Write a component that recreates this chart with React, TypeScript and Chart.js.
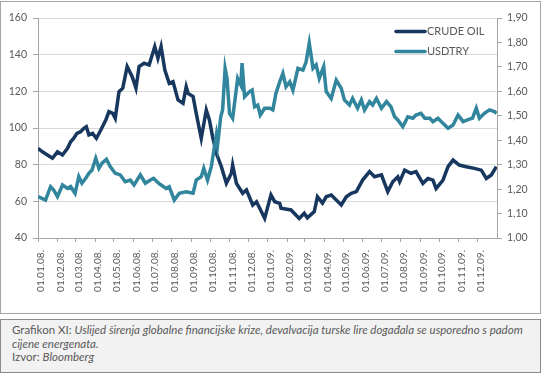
import React, { useEffect, useRef } from 'react';
import { Chart, registerables } from 'chart.js';

Chart.register(...registerables);

// x positions: days since 01.01.2008
const oilDays = [0, 7, 15, 23, 31, 39, 47, 52, 57, 62, 68, 73, 77, 81, 87, 93, 100, 108, 113, 119, 123, 129, 135, 142, 150, 156, 161, 169, 177, 186, 191, 196, 202, 209, 215, 223, 231, 236, 239, 247, 252, 260, 268, 273, 278, 284, 292, 300, 308, 310, 316, 326, 332, 342, 348, 361, 371, 377, 385, 387, 403, 416, 424, 429, 440, 445, 453, 459, 467, 483, 491, 499, 507, 517, 528, 536, 547, 557, 565, 573, 576, 584, 594, 602, 613, 621, 629, 634, 645, 653, 661, 671, 682, 695, 706, 714, 722, 730];
const oilValues = [88.9, 87, 85.3, 83.5, 87, 85.3, 88.9, 92.5, 94.4, 97.1, 98, 99.8, 100.7, 96.2, 97.1, 94.4, 98.9, 104.4, 108.9, 108, 105.3, 119.8, 121.7, 133.5, 128, 121.7, 133.5, 135.3, 134.4, 144.4, 138, 144.4, 131.6, 124.4, 125.3, 115.3, 113.5, 122.5, 118.9, 117.1, 108, 94.4, 109.8, 104.4, 95.3, 86.2, 78.9, 69.8, 75.3, 79.8, 69.8, 64.4, 66.2, 58, 59.8, 50.7, 63.5, 59.8, 58.9, 56.2, 55.3, 50.7, 53.5, 51, 54.4, 62.5, 59, 62.5, 63.5, 58, 62.5, 64.4, 65.3, 71.6, 76.2, 73.4, 74.4, 65.3, 70.7, 73.4, 70.7, 77, 75.3, 76.2, 69.8, 72.5, 71.6, 67, 71.6, 78.9, 82.5, 79.8, 78.9, 78, 77, 72.5, 74.4, 78.9];

const usdDays = [0, 12, 20, 25, 31, 39, 47, 52, 59, 65, 70, 76, 81, 86, 92, 97, 102, 109, 115, 123, 131, 139, 147, 153, 163, 171, 179, 184, 192, 196, 204, 209, 217, 225, 236, 247, 252, 260, 264, 270, 276, 281, 284, 286, 291, 294, 298, 301, 305, 310, 313, 318, 323, 325, 329, 337, 341, 345, 350, 354, 361, 369, 374, 379, 385, 390, 395, 401, 406, 414, 422, 427, 432, 438, 443, 448, 455, 459, 467, 475, 483, 488, 496, 501, 509, 515, 520, 528, 533, 539, 547, 555, 562, 568, 573, 581, 589, 597, 602, 610, 616, 624, 629, 637, 645, 653, 661, 669, 677, 684, 692, 698, 703, 711, 719, 727, 730];
const usdValues = [1.169, 1.155, 1.21, 1.196, 1.169, 1.217, 1.203, 1.21, 1.183, 1.251, 1.224, 1.244, 1.265, 1.278, 1.326, 1.285, 1.306, 1.322, 1.292, 1.265, 1.258, 1.23, 1.237, 1.217, 1.258, 1.224, 1.237, 1.244, 1.224, 1.217, 1.203, 1.21, 1.155, 1.183, 1.189, 1.183, 1.237, 1.251, 1.285, 1.237, 1.292, 1.373, 1.421, 1.38, 1.496, 1.524, 1.694, 1.653, 1.51, 1.49, 1.551, 1.653, 1.626, 1.715, 1.578, 1.599, 1.605, 1.537, 1.544, 1.503, 1.531, 1.531, 1.524, 1.592, 1.639, 1.674, 1.619, 1.639, 1.605, 1.694, 1.687, 1.721, 1.797, 1.694, 1.708, 1.653, 1.701, 1.599, 1.571, 1.646, 1.612, 1.565, 1.544, 1.571, 1.531, 1.565, 1.524, 1.558, 1.544, 1.571, 1.531, 1.558, 1.537, 1.496, 1.483, 1.455, 1.496, 1.49, 1.503, 1.51, 1.49, 1.49, 1.476, 1.49, 1.469, 1.449, 1.462, 1.503, 1.476, 1.483, 1.49, 1.531, 1.49, 1.51, 1.524, 1.517, 1.51];

const tickLabels = ['01.01.08.', '01.02.08.', '01.03.08.', '01.04.08.', '01.05.08.', '01.06.08.', '01.07.08.', '01.08.08.', '01.09.08.', '01.10.08.', '01.11.08.', '01.12.08.', '01.01.09.', '01.02.09.', '01.03.09.', '01.04.09.', '01.05.09.', '01.06.09.', '01.07.09.', '01.08.09.', '01.09.09.', '01.10.09.', '01.11.09.', '01.12.09.'];
const seriesNames = ['CRUDE OIL', 'USDTRY'];
const colors = ['#17375E', '#31859C'];

const START = Date.UTC(2008, 0, 1);
const labelDay = (lab: string) => {
  const p = lab.split('.');
  return Math.round((Date.UTC(2000 + Number(p[2]), Number(p[1]) - 1, Number(p[0])) - START) / 86400000);
};
const tickDays = tickLabels.map(labelDay);

const TXT = '#595959';
const AX = '#a6a6a6';
const GRID = '#d9d9d9';

const insideLegend = {
  id: 'insideLegend',
  afterDraw(chart: any) {
    const { ctx, chartArea } = chart;
    ctx.save();
    seriesNames.forEach((name, i) => {
      const y = chartArea.top + 13.5 + i * 20;
      const x0 = chartArea.right - 101;
      ctx.strokeStyle = colors[i];
      ctx.lineWidth = 3.5;
      ctx.lineCap = 'round';
      ctx.beginPath();
      ctx.moveTo(x0, y);
      ctx.lineTo(x0 + 29, y);
      ctx.stroke();
      ctx.fillStyle = TXT;
      ctx.font = '11px Lato';
      ctx.textBaseline = 'middle';
      ctx.textAlign = 'left';
      ctx.fillText(name, x0 + 31, y);
    });
    ctx.restore();
  },
};

export default function App() {
  const ref = useRef<HTMLCanvasElement | null>(null);
  useEffect(() => {
    if (!ref.current) return;
    const chart = new Chart(ref.current, {
      type: 'line',
      data: {
        datasets: [
          {
            label: seriesNames[0],
            data: oilDays.map((d, i) => ({ x: d, y: oilValues[i] })),
            borderColor: colors[0],
            backgroundColor: colors[0],
            borderWidth: 3.5,
            pointRadius: 0,
            yAxisID: 'y',
            order: 2,
          },
          {
            label: seriesNames[1],
            data: usdDays.map((d, i) => ({ x: d, y: usdValues[i] })),
            borderColor: colors[1],
            backgroundColor: colors[1],
            borderWidth: 3.5,
            pointRadius: 0,
            yAxisID: 'y1',
            order: 1,
          },
        ],
      },
      options: {
        responsive: false,
        animation: false,
        events: [],
        layout: { padding: { top: 18, left: 0, right: 0, bottom: 0 } },
        plugins: { legend: { display: false }, tooltip: { enabled: false } },
        scales: {
          x: {
            type: 'linear',
            min: 0,
            max: 731,
            afterBuildTicks: (s: any) => {
              s.ticks = tickDays.map((v) => ({ value: v }));
            },
            afterFit: (s: any) => {
              s.height = 75;
            },
            grid: { drawOnChartArea: false, tickLength: 4, tickColor: AX, color: AX },
            border: { color: AX },
            ticks: {
              autoSkip: false,
              minRotation: 90,
              maxRotation: 90,
              labelOffset: 3,
              padding: 8,
              color: TXT,
              font: { family: 'Lato', size: 10 },
              callback: (v: any) => {
                const i = tickDays.indexOf(Number(v));
                return i >= 0 ? tickLabels[i] : '';
              },
            },
          },
          y: {
            position: 'left',
            min: 40,
            max: 160,
            afterFit: (s: any) => {
              s.width = 38;
            },
            grid: { color: GRID, tickColor: AX, tickLength: 5 },
            border: { color: AX },
            ticks: { stepSize: 20, padding: 6, color: TXT, font: { family: 'Lato', size: 10.5 } },
          },
          y1: {
            position: 'right',
            min: 1,
            max: 1.9,
            afterFit: (s: any) => {
              s.width = 47;
            },
            grid: { drawOnChartArea: false, tickColor: AX, tickLength: 5 },
            border: { color: AX },
            ticks: {
              stepSize: 0.1,
              padding: 5,
              color: TXT,
              font: { family: 'Lato', size: 10.5 },
              callback: (v: any) => Number(v).toFixed(2).replace('.', ','),
            },
          },
        },
      },
      plugins: [insideLegend],
    });
    return () => chart.destroy();
  }, []);

  return (
    <div style={{ position: 'absolute', left: 0, top: 0, width: 544, height: 379, background: '#fff' }}>
      <div
        style={{
          position: 'absolute',
          left: 0,
          top: 1,
          width: 541,
          height: 313,
          boxSizing: 'border-box',
          border: '1px solid #a6a6a6',
        }}
      />
      <canvas ref={ref} width={544} height={313} style={{ position: 'absolute', left: 0, top: 0, width: 544, height: 313 }} />
      <div
        style={{
          position: 'absolute',
          left: 0,
          top: 319,
          width: 541,
          height: 54,
          boxSizing: 'border-box',
          border: '1px solid #8c8c8c',
          background: '#f2f2f2',
          padding: '3px 0 0 11px',
          fontFamily: 'Lato',
          fontSize: 11.5,
          lineHeight: '13.5px',
          color: '#595959',
          whiteSpace: 'nowrap',
        }}
      >
        Grafikon XI: <i>Uslijed širenja globalne financijske krize, devalvacija turske lire događala se usporedno s padom</i>
        <br />
        <i>cijene energenata.</i>
        <br />
        Izvor: <i>Bloomberg</i>
      </div>
    </div>
  );
}
